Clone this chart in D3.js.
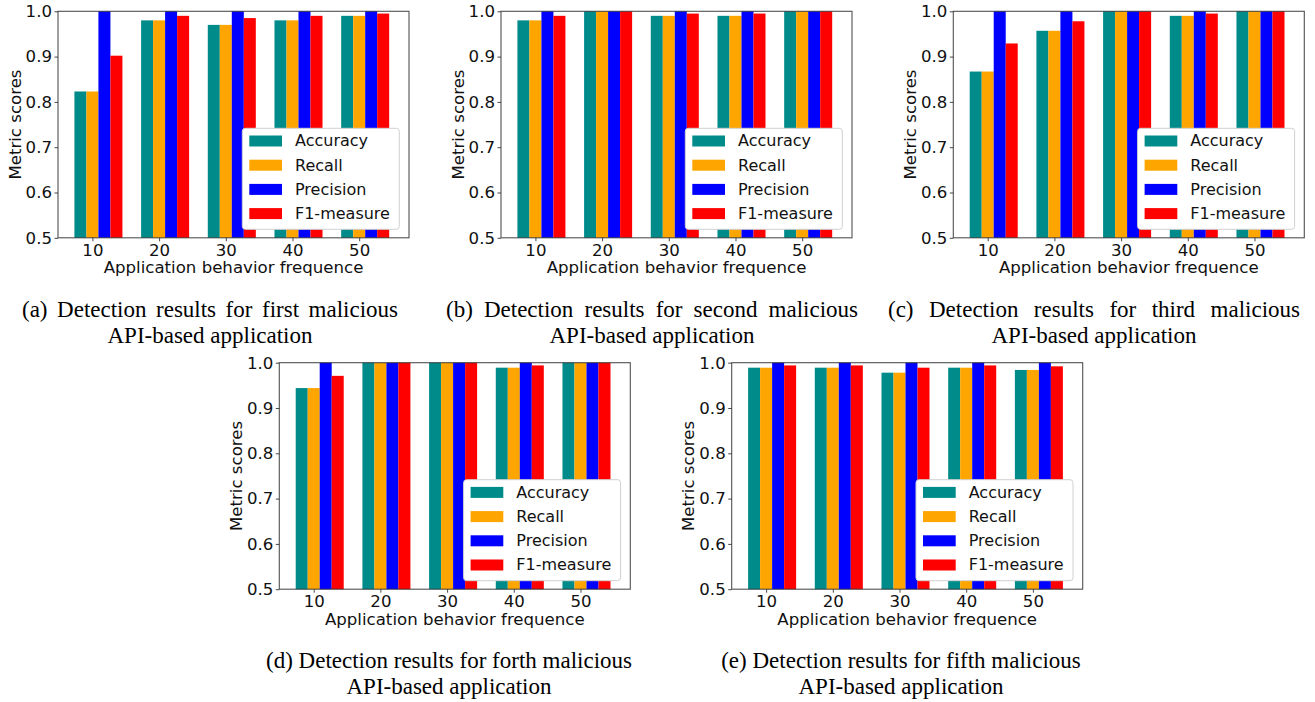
<!DOCTYPE html>
<html>
<head>
<meta charset="utf-8">
<script src="https://cdn.jsdelivr.net/npm/d3@7/dist/d3.min.js"></script>
<style>
  html, body { margin: 0; padding: 0; background: #fff; }
  svg { display: block; }
</style>
</head>
<body>
<svg id="fig" width="1315" height="702"></svg>
<script>
// Behaviour frequencies on the x axis and the four metrics per group
const categories = [10, 20, 30, 40, 50];
const metrics = ["Accuracy", "Recall", "Precision", "F1-measure"];
const metricColors = ["#008b8b", "#ffa500", "#0000ff", "#ff0000"];
const yTicks = [0.5, 0.6, 0.7, 0.8, 0.9, 1.0];

// (a) first malicious API-based application
const accuracy1  = [0.823, 0.980, 0.970, 0.980, 0.990];
const recall1    = [0.823, 0.980, 0.970, 0.980, 0.990];
const precision1 = [1.000, 1.000, 1.000, 1.000, 1.000];
const f1measure1 = [0.902, 0.990, 0.985, 0.990, 0.995];

// (b) second
const accuracy2  = [0.980, 1.000, 0.990, 0.990, 1.000];
const recall2    = [0.980, 1.000, 0.990, 0.990, 1.000];
const precision2 = [1.000, 1.000, 1.000, 1.000, 1.000];
const f1measure2 = [0.990, 1.000, 0.995, 0.995, 1.000];

// (c) third
const accuracy3  = [0.867, 0.957, 1.000, 0.990, 1.000];
const recall3    = [0.867, 0.957, 1.000, 0.990, 1.000];
const precision3 = [1.000, 1.000, 1.000, 1.000, 1.000];
const f1measure3 = [0.929, 0.978, 1.000, 0.995, 1.000];

// (d) forth
const accuracy4  = [0.944, 1.000, 1.000, 0.989, 1.000];
const recall4    = [0.944, 1.000, 1.000, 0.989, 1.000];
const precision4 = [1.000, 1.000, 1.000, 1.000, 1.000];
const f1measure4 = [0.971, 1.000, 1.000, 0.994, 1.000];

// (e) fifth
const accuracy5  = [0.989, 0.989, 0.978, 0.989, 0.984];
const recall5    = [0.989, 0.989, 0.978, 0.989, 0.984];
const precision5 = [1.000, 1.000, 1.000, 1.000, 1.000];
const f1measure5 = [0.994, 0.994, 0.989, 0.994, 0.992];

const captions = [
  ["(a) Detection results for first malicious", "API-based application"],
  ["(b) Detection results for second malicious", "API-based application"],
  ["(c) Detection results for third malicious", "API-based application"],
  ["(d) Detection results for forth malicious", "API-based application"],
  ["(e) Detection results for fifth malicious", "API-based application"]
];

const xLabel = "Application behavior frequence";
const yLabel = "Metric scores";

// Layout of the five subplots (capW: width the first caption line is set to)
const plotW = 351, plotH = 226.5;
const layout = [
  { left: 58,    top: 11.3,  capX: 210,  capW: 376 },
  { left: 501,   top: 11.3,  capX: 652,  capW: 412 },
  { left: 953.3, top: 11.3,  capX: 1094, capW: 412 },
  { left: 279.3, top: 362.7, capX: 449,  capW: 357 },
  { left: 731.7, top: 362.7, capX: 901,  capW: 348 }
];

const panelSeries = [
  [accuracy1, recall1, precision1, f1measure1],
  [accuracy2, recall2, precision2, f1measure2],
  [accuracy3, recall3, precision3, f1measure3],
  [accuracy4, recall4, precision4, f1measure4],
  [accuracy5, recall5, precision5, f1measure5]
];

const sansFont = "'DejaVu Sans', sans-serif";
const serifFont = "'Liberation Serif', 'Times New Roman', serif";
const barWidth = 1.8; // in x-axis units

const svg = d3.select("#fig");

const x = d3.scaleLinear().domain([4.84, 57.47]).range([0, plotW]);
const y = d3.scaleLinear().domain([0.5, 1.0]).range([plotH, 0]);

panelSeries.forEach((series, p) => {
  const L = layout[p];
  const g = svg.append("g").attr("transform", `translate(${L.left},${L.top})`);

  // grouped bars; tick sits on the second bar of each group
  series.forEach((vals, m) => {
    g.append("g")
      .selectAll("rect")
      .data(categories.map((c, i) => ({ c, v: vals[i] })))
      .join("rect")
      .attr("x", d => x(d.c + (m - 1) * barWidth - barWidth / 2))
      .attr("width", d => x(d.c + barWidth) - x(d.c))
      .attr("y", d => y(d.v))
      .attr("height", d => y(0.5) - y(d.v))
      .attr("fill", metricColors[m]);
  });

  // axes
  const yAxis = d3.axisLeft(y).tickValues(yTicks).tickFormat(d3.format(".1f"))
    .tickSize(3.5).tickPadding(2.5);
  const xAxis = d3.axisBottom(x).tickValues(categories).tickFormat(d3.format("d"))
    .tickSize(3.5).tickPadding(3);

  const ya = g.append("g").call(yAxis);
  const xa = g.append("g").attr("transform", `translate(0,${plotH})`).call(xAxis);
  [ya, xa].forEach(a => {
    a.select(".domain").remove();
    a.selectAll(".tick line").attr("stroke", "#333").attr("stroke-width", 0.9);
    a.selectAll(".tick text").attr("fill", "#111")
      .style("font-family", sansFont).style("font-size", "16.6px");
  });

  // frame
  g.append("rect")
    .attr("x", 0).attr("y", 0).attr("width", plotW).attr("height", plotH)
    .attr("fill", "none").attr("stroke", "#333").attr("stroke-opacity", 0.85)
    .attr("stroke-width", 1.1);

  // axis titles
  g.append("text")
    .attr("x", plotW / 2).attr("y", plotH + 35.5)
    .attr("text-anchor", "middle")
    .style("font-family", sansFont).style("font-size", "16.6px").attr("fill", "#111")
    .text(xLabel);
  g.append("text")
    .attr("transform", `translate(${-43},${plotH / 2}) rotate(-90)`)
    .attr("text-anchor", "middle").attr("dominant-baseline", "central")
    .style("font-family", sansFont).style("font-size", "16.6px").attr("fill", "#111")
    .text(yLabel);

  // legend
  const lg = g.append("g").attr("transform", `translate(184.3,117)`);
  lg.append("rect")
    .attr("width", 157).attr("height", 101).attr("rx", 3).attr("ry", 3)
    .attr("fill", "#fff").attr("stroke", "#d0d0d0").attr("stroke-width", 1);
  metrics.forEach((name, m) => {
    const cy = 12.7 + m * 24.2;
    lg.append("rect")
      .attr("x", 7).attr("y", cy - 5.5).attr("width", 32.7).attr("height", 11)
      .attr("fill", metricColors[m]);
    lg.append("text")
      .attr("x", 52.7).attr("y", cy).attr("dominant-baseline", "central")
      .style("font-family", sansFont).style("font-size", "16px").attr("fill", "#111")
      .text(name);
  });

  // caption: first line spread to its width when shorter, last line centred
  captions[p].forEach((line, k) => {
    const t = svg.append("text")
      .attr("x", L.capX).attr("y", L.top + 305.5 + k * 26)
      .attr("text-anchor", "middle")
      .style("font-family", serifFont).style("font-size", "23px").attr("fill", "#000")
      .text(line);
    if (k === 0) {
      const natural = t.node().getComputedTextLength();
      const gaps = line.split(" ").length - 1;
      const extra = Math.max(0, (L.capW - natural) / gaps);
      if (extra > 0) t.style("word-spacing", `${extra}px`);
    }
  });
});
</script>
</body>
</html>
